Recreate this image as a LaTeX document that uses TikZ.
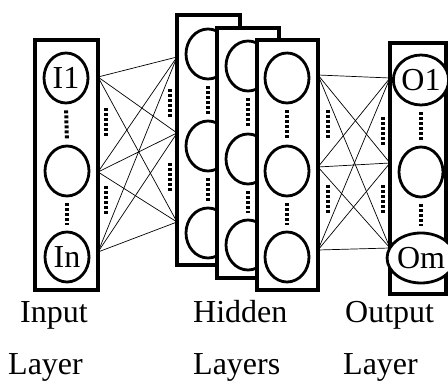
\documentclass[tikz,border=0pt]{standalone}
\usepackage{fontspec}
\setmainfont{Liberation Serif}
\usetikzlibrary{shapes.geometric}
\begin{document}
\begin{tikzpicture}[x=1pt,y=-1pt,
  layerbox/.style={draw,line width=3.5pt,fill=white,inner sep=0pt},
  neuron/.style={ellipse,draw,line width=2.8pt,fill=white,minimum width=44pt,minimum height=50pt,inner sep=0pt,font=\fontsize{32}{32}\selectfont},
  gapdots/.style={line width=4pt,dash pattern=on 3pt off 2pt},
  vdots/.style={gapdots,shorten <=6pt,shorten >=6pt},
  link/.style={line width=0.7pt},
  lbl/.style={anchor=base west,inner sep=0pt,font=\fontsize{32}{32}\selectfont}]
\useasboundingbox (0,0) rectangle (448,382);
% input layer
\node[layerbox,minimum width=63pt,minimum height=250pt] (inbox) at (66.5,165) {};
\node[neuron] (i1) at (66,78) {I1};
\node[neuron] (i2) at (67,171) {};
\node[neuron] (i3) at (67,257) {In};
\draw[vdots] (i1.south) -- (i2.north);
\draw[vdots] (i2.south) -- (i3.north);
% connections input -> hidden
\coordinate (s1) at (98,77);
\coordinate (s2) at (98,172);
\coordinate (s3) at (98,252);
\coordinate (t1) at (177,57);
\coordinate (t2) at (177,133);
\coordinate (t3) at (177,222);
\foreach \s in {s1,s2,s3}{\foreach \t in {t1,t2,t3}{\draw[link] (\s) -- (\t);}}
\draw[gapdots] (106,108) -- (106,137);
\draw[gapdots] (106,186) -- (106,215);
\draw[gapdots] (170,89) -- (170,118);
\draw[gapdots] (170,163) -- (170,192);
% hidden layer 1
\node[layerbox,minimum width=63pt,minimum height=250pt] (hbox1) at (208.5,140) {};
\node[neuron] (ha1) at (208,54) {};
\node[neuron] (ha2) at (208,146) {};
\node[neuron] (ha3) at (208,233) {};
\draw[vdots] (ha1.south) -- (ha2.north);
\draw[vdots] (ha2.south) -- (ha3.north);
% hidden layer 2
\node[layerbox,minimum width=62pt,minimum height=250pt] (hbox2) at (248,153) {};
\node[neuron] (hb1) at (248,66) {};
\node[neuron] (hb2) at (248,159) {};
\node[neuron] (hb3) at (248,245) {};
\draw[vdots] (hb1.south) -- (hb2.north);
\draw[vdots] (hb2.south) -- (hb3.north);
% hidden layer 3
\node[layerbox,minimum width=61pt,minimum height=250pt] (hbox3) at (287.5,165) {};
\node[neuron] (hc1) at (287,78) {};
\node[neuron] (hc2) at (287,171) {};
\node[neuron] (hc3) at (287,257) {};
\draw[vdots] (hc1.south) -- (hc2.north);
\draw[vdots] (hc2.south) -- (hc3.north);
% connections hidden -> output
\coordinate (u1) at (318,75);
\coordinate (u2) at (318,167);
\coordinate (u3) at (318,250);
\coordinate (v1) at (390,78);
\coordinate (v2) at (390,163);
\coordinate (v3) at (390,248);
\foreach \s in {u1,u2,u3}{\foreach \t in {v1,v2,v3}{\draw[link] (\s) -- (\t);}}
\draw[gapdots] (328,110) -- (328,139);
\draw[gapdots] (328,185) -- (328,214);
\draw[gapdots] (383,117) -- (383,146);
\draw[gapdots] (383,185) -- (383,214);
% output layer
\node[layerbox,minimum width=56pt,minimum height=251pt] (outbox) at (418,168.5) {};
\node[neuron] (o1) at (421,80) {O1};
\node[neuron] (o2) at (421,172) {};
\node[neuron] (o3) at (421,258) {Om};
\draw[vdots] (o1.south) -- (o2.north);
\draw[vdots] (o2.south) -- (o3.north);
% labels
\node[lbl] (lin1) at (20,323) {Input};
\node[lbl] (lin2) at (8,375) {Layer};
\node[lbl] (lhd1) at (193,323) {Hidden};
\node[lbl] (lhd2) at (193,375) {Layers};
\node[lbl] (lout1) at (345,323) {Output};
\node[lbl] (lout2) at (343,375) {Layer};
\end{tikzpicture}
\end{document}
